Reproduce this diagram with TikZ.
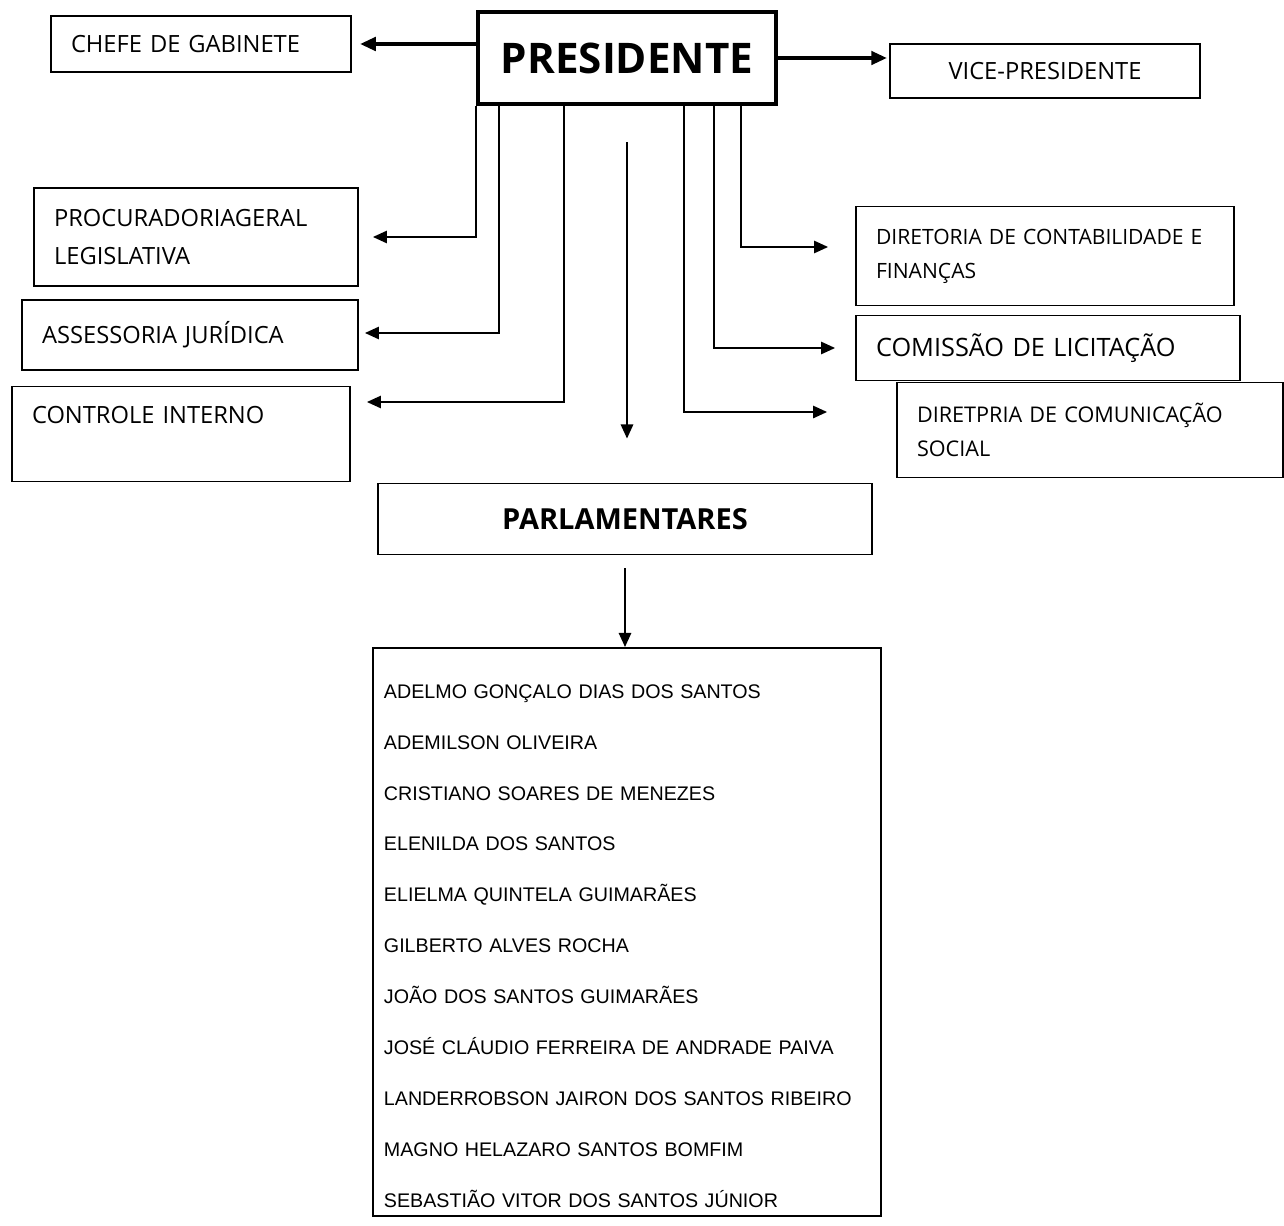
\documentclass[tikz,border=0pt]{standalone}
\usepackage{fontspec}
\setmainfont{Open Sans}
\newfontfamily\namefont{Liberation Sans}
\usetikzlibrary{arrows.meta}

\begin{document}
\begin{tikzpicture}[x=0.02cm, y=-0.02cm,
    unit/.style={rectangle, draw, line width=1.1pt, inner xsep=0.4cm, inner ysep=0pt, align=left, font=\fontsize{13.5}{22}\selectfont},
    head/.style={unit, line width=2.8pt, align=center, font=\bfseries\fontsize{24}{28}\selectfont},
    link/.style={draw, line width=1.1pt, -{Triangle[length=8pt, width=7pt]}},
    bold link/.style={draw, line width=2.6pt, -{Triangle[length=9pt, width=7.5pt]}}
]
    \useasboundingbox (0,0) rectangle (1284,1226);

    % Top row
    \node [head, minimum width=5.96cm, minimum height=1.84cm] (pres) at (627,58) {PRESIDENTE};
    \node [unit, text width=5.2cm, minimum height=1.12cm] (chefe) at (201,44) {CHEFE DE GABINETE};
    \node [unit, align=center, minimum width=6.2cm, minimum height=1.08cm] (vice) at (1045,71) {VICE-PRESIDENTE};

    % Left side
    \node [unit, text width=5.68cm, minimum height=1.96cm] (proc) at (196,237) {PROCURADORIAGERAL\\LEGISLATIVA};
    \node [unit, text width=5.92cm, minimum height=1.4cm] (assess) at (190,335) {ASSESSORIA JURÍDICA};
    \node [unit, text width=5.96cm, minimum height=1.9cm] (ctrl) at (181,434) {CONTROLE INTERNO\\\mbox{}};

    % Right side
    \node [unit, text width=6.76cm, minimum height=1.98cm, font=\fontsize{12}{19.3}\selectfont] (dir) at (1045,256) {DIRETORIA DE CONTABILIDADE E\\FINANÇAS};
    \node [unit, text width=6.88cm, minimum height=1.3cm, font=\fontsize{14.4}{18}\selectfont] (lic) at (1048,348) {COMISSÃO DE LICITAÇÃO};
    \node [unit, text width=6.92cm, minimum height=1.9cm, font=\fontsize{12.3}{19.3}\selectfont] (com) at (1090,430) {DIRETPRIA DE COMUNICAÇÃO\\SOCIAL};

    % Parlamentares
    \node [unit, align=center, minimum width=9.88cm, minimum height=1.42cm, font=\bfseries\fontsize{16.5}{20}\selectfont] (parl) at (625,519) {PARLAMENTARES};
    \node [unit, anchor=north west, inner xsep=0.22cm, inner ysep=4pt, text width=9.72cm, minimum height=11.36cm, font=\namefont\fontsize{11.2}{29}\selectfont] (names) at (372,647) {\rule{0pt}{24pt}ADELMO GONÇALO DIAS DOS SANTOS\\
        ADEMILSON OLIVEIRA\\
        CRISTIANO SOARES DE MENEZES\\
        ELENILDA DOS SANTOS\\
        ELIELMA QUINTELA GUIMARÃES\\
        GILBERTO ALVES ROCHA\\
        JOÃO DOS SANTOS GUIMARÃES\\
        JOSÉ CLÁUDIO FERREIRA DE ANDRADE PAIVA\\
        LANDERROBSON JAIRON DOS SANTOS RIBEIRO\\
        MAGNO HELAZARO SANTOS BOMFIM\\
        SEBASTIÃO VITOR DOS SANTOS JÚNIOR};

    % Connections
    \path [bold link, shorten >=0.16cm] (pres.west |- chefe.east) -- (chefe.east);
    \path [bold link, shorten >=0.04cm] (pres.east) -- (pres.east -| vice.west);

    \path [link, shorten >=0.28cm] (pres.south west) |- (proc.east);
    \path [link, shorten >=0.12cm] ([xshift=0.46cm]pres.south west) |- ([yshift=0.04cm]assess.east);
    \path [link, shorten >=0.32cm] ([xshift=1.76cm]pres.south west) |- ([yshift=0.64cm]ctrl.east);

    \path [link, shorten >=0.54cm] ([xshift=-0.74cm]pres.south east) |- ([yshift=0.18cm]dir.west);
    \path [link, shorten >=0.4cm] ([xshift=-1.28cm]pres.south east) |- (lic.west);
    \path [link, shorten >=1.38cm] ([xshift=-1.88cm]pres.south east) |- ([yshift=0.36cm]com.west);

    \path [link, shorten <=0.72cm, shorten >=0.88cm] (pres.south) -- (pres.south |- parl.north);
    \path [link, shorten <=0.26cm] (parl.south) -- (parl.south |- names.north);
\end{tikzpicture}
\end{document}
